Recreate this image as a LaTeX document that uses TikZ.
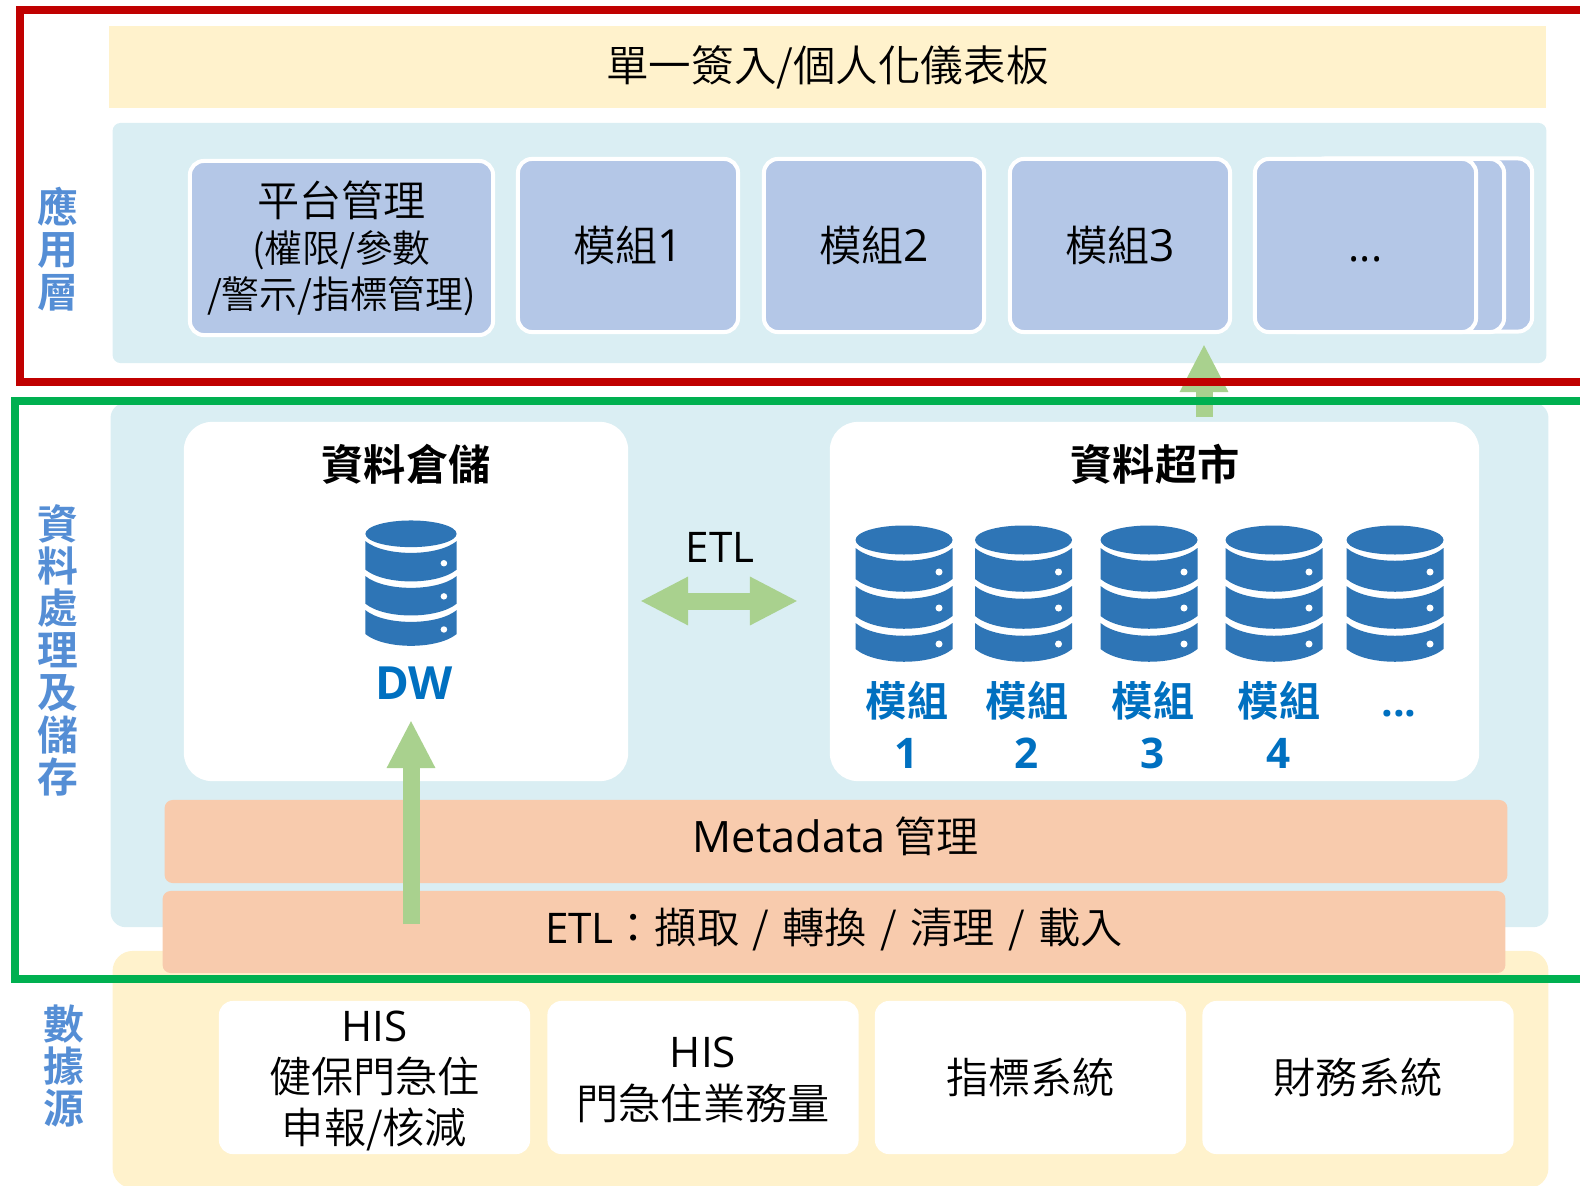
\documentclass[tikz,border=0pt]{standalone}
\usepackage{fontspec}
\setmainfont{Noto Sans CJK TC DemiLight}[BoldFont={Noto Sans CJK TC Bold}]
\newfontfamily\latinfont{Open Sans}
\newcommand{\latinmed}{\latinfont\bfseries}
\usetikzlibrary{arrows.meta}
\definecolor{applight}{HTML}{DAEEF3}
\definecolor{modblue}{HTML}{B4C7E7}
\definecolor{srcyellow}{HTML}{FFF2CC}
\definecolor{etlorange}{HTML}{F8CBAD}
\definecolor{arrowgreen}{HTML}{A9D18E}
\definecolor{dbblue}{HTML}{2E75B6}
\definecolor{labelblue}{HTML}{0070C0}
\definecolor{sideblue}{HTML}{558ED5}
\definecolor{framered}{HTML}{C00000}
\definecolor{framegreen}{HTML}{00B050}
\newcommand{\smalltxt}{\fontsize{10.75}{12.8}\selectfont}
\newcommand{\slashgap}{\hspace{1.15pt}/\hspace{1.15pt}}

\tikzset{
    txt/.style={font=\fontsize{12}{14.6}\selectfont, align=center, inner sep=0pt},
    band/.style={txt, rounded corners=0.08cm},
    panel/.style={rounded corners=0.15cm, inner sep=0pt},
    module/.style={txt, fill=modblue, draw=white, line width=0.04cm, rounded corners=0.14cm,
                   minimum width=2.2cm, minimum height=1.73cm},
    source/.style={txt, fill=white, rounded corners=0.14cm, minimum width=3.11cm, minimum height=1.53cm},
    whitebox/.style={fill=white, rounded corners=0.28cm, minimum height=3.59cm, inner sep=0pt},
    sidelabel/.style={font=\fontsize{11.6}{12}\bfseries\selectfont, text=sideblue, align=center, inner sep=0pt},
    boxtitle/.style={font=\fontsize{12}{14}\bfseries\selectfont, inner sep=0pt},
    martlabel/.style={font=\fontsize{11.7}{15}\bfseries\selectfont, text=labelblue, align=center, inner sep=0pt},
    bigarrow/.style={draw=arrowgreen, line width=0.17cm, -{Triangle[length=0.48cm, width=0.45cm]}},
    bigdouble/.style={draw=arrowgreen, line width=0.17cm,
                      {Triangle[length=0.48cm, width=0.45cm]}-{Triangle[length=0.48cm, width=0.45cm]}},
    frame/.style={line width=0.08cm},
    dbicon/.pic={
        \fill[dbblue] (0,15) ellipse (48.5 and 14.5);
        \foreach \ya/\yb in {23/54, 61/91, 98/124} {
            \fill[dbblue] (-48.5,\ya) .. controls (-28,\ya+17) and (28,\ya+17) .. (48.5,\ya)
                -- (48.5,\yb) .. controls (28,\yb+17) and (-28,\yb+17) .. (-48.5,\yb) -- cycle;
        }
        \foreach \yd in {47, 83, 119} {
            \fill[white] (35,\yd) circle (3.5);
        }
    },
}

\begin{document}
\begin{tikzpicture}[x=0.01cm, y=-0.01cm]
\path[use as bounding box, clip] (0,0) rectangle (1580,1185);

% application layer
\node[panel, fill=srcyellow, txt, font=\fontsize{12.1}{14.6}\selectfont, rounded corners=0, minimum width=14.37cm, minimum height=0.82cm] (portal) at (827.5,67) {單一簽入/個人化儀表板};
\node[panel, fill=applight, rounded corners=0.08cm, minimum width=14.33cm, minimum height=2.4cm] (apppanel) at (829.5,243) {};

\node[module, minimum width=3.03cm, minimum height=1.74cm] (platform) at (341.5,248) {平台管理\\[-1.4pt]{\smalltxt (權限/參數}\\[-1.7pt]{\smalltxt /警示/指標管理)}};
\foreach \x/\n in {628/1, 874/2, 1120/3} {
    \node[module, label={[txt, yshift=-0.1pt]center:模組{\latinfont\fontsize{12.6}{14}\selectfont\n}}] (mod\n) at (\x,245.5) {};
}
\node[module, minimum width=2.21cm] (modback) at (1421.5,245) {};
\node[module, minimum width=2.21cm] (modmid) at (1393.5,245.5) {};
\node[module, minimum width=2.21cm] (modmore) at (1365.5,245.5) {\vphantom{模組}{\latinfont ...}};

% data layer
\node[panel, fill=applight, minimum width=14.37cm, minimum height=5.24cm] (datapanel) at (829.5,665) {};
\node[whitebox, minimum width=4.44cm] (dwbox) at (406,601.5) {};
\node[whitebox, minimum width=6.49cm] (martbox) at (1154.5,601.5) {};
\node[boxtitle] (dwtitle) at (406,464) {資料倉儲};
\node[boxtitle] (marttitle) at (1155,464) {資料超市};

\pic[xscale=0.94, yscale=0.92] (dwicon) at (411,520) {dbicon};
\node[font=\fontsize{13}{14}\latinmed, text=labelblue, inner sep=0pt] (dwlabel) at (414,683) {DW};

\foreach \x/\n in {904/1, 1023.5/2, 1149/3, 1274/4, 1395/5} {
    \pic (mart\n) at (\x,525) {dbicon};
}
\foreach \x/\n in {907/1, 1027/2, 1153/3, 1279/4} {
    \node[martlabel] (martlabel\n) at (\x,725) {模組\\{\fontsize{12}{15}\latinmed\selectfont\n}};
}
\node[martlabel] (martmore) at (1399,714) {\latinmed ...};

\node[txt, font=\fontsize{12}{14}\latinfont\selectfont] (etllabel) at (720,547) {ETL};

\node[band, fill=etlorange, minimum width=13.42cm, minimum height=0.83cm,
      label={[txt, yshift=1.4pt]center:{\latinfont\fontsize{12.3}{14}\selectfont Metadata} 管理}] (metaband) at (836,841.5) {};

% source layer
\node[panel, fill=srcyellow, rounded corners=0.2cm, minimum width=14.35cm, minimum height=2.37cm] (srcpanel) at (830.5,1069.5) {};
\node[band, fill=etlorange, minimum width=13.42cm, minimum height=0.82cm,
      label={[txt, yshift=0.8pt]center:{\latinfont ETL}\hspace{-0.3pt}：擷取 \slashgap{} 轉換 \slashgap{} 清理 \slashgap{} 載入}] (etlband) at (834,932) {};

\node[source, label={[txt, yshift=-1pt]center:{{\latinfont HIS}\\健保門急住\\申報/核減}}] (his1) at (374.5,1077.5) {};
\node[source, label={[txt, yshift=-0.7pt]center:{{\latinfont HIS}\\門急住業務量}}] (his2) at (703,1077.5) {};
\node[source] (kpi) at (1030.5,1077.5) {指標系統};
\node[source] (finance) at (1358,1077.5) {財務系統};

% arrows
\coordinate (etlleft) at (640,601);
\coordinate (etlright) at (798,601);
\coordinate (dwfoot) at (411,924);
\coordinate (dwhead) at (411,720);
\coordinate (appfoot) at (1204,417);
\coordinate (apphead) at (1204,344);
\draw[bigdouble] (etlleft) -- (etlright);
\draw[bigarrow] (dwfoot) -- (dwhead);
\draw[bigarrow] (appfoot) -- (apphead);

% frames
\draw[frame, draw=framered] (20,10) rectangle (1620,382);
\draw[frame, draw=framegreen] (15.4,401) rectangle (1620,979);

% side labels
\node[sidelabel] (applabel) at (58,249) {應\\用\\層};
\node[sidelabel] (datalabel) at (58,650) {資\\料\\處\\理\\及\\儲\\存};
\node[sidelabel] (srclabel) at (63.5,1066) {數\\據\\源};

\end{tikzpicture}
\end{document}
